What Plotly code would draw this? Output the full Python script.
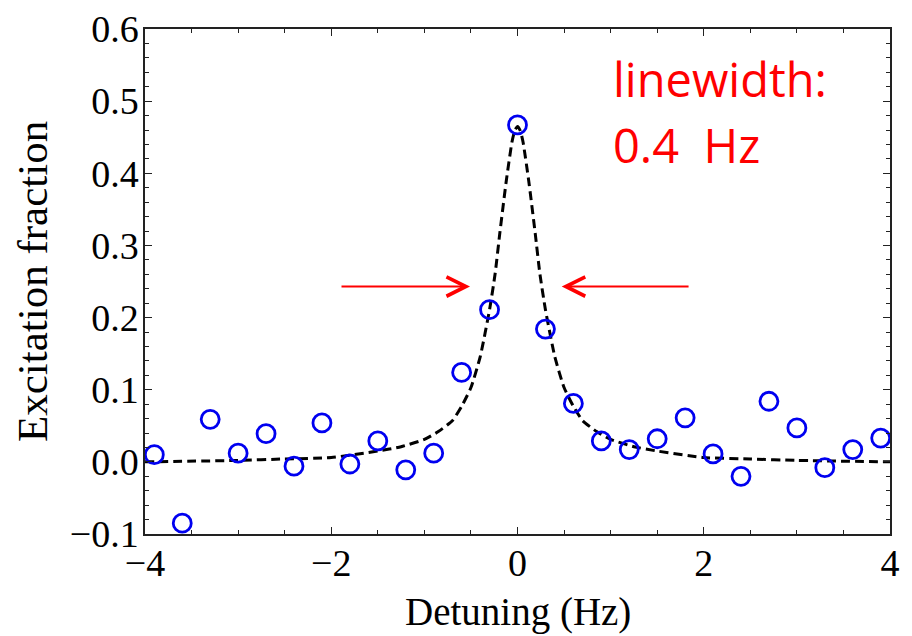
import plotly.graph_objects as go

# Measured data points (Detuning in Hz, excitation fraction)
detuning = [-3.9, -3.6, -3.3, -3.0, -2.7, -2.4, -2.1, -1.8, -1.5, -1.2, -0.9, -0.6, -0.3,
            0.0, 0.3, 0.6, 0.9, 1.2, 1.5, 1.8, 2.1, 2.4, 2.7, 3.0, 3.3, 3.6, 3.9]
excitation = [0.010, -0.085, 0.059, 0.012, 0.039, -0.006, 0.054, -0.003, 0.029, -0.011, 0.012, 0.124, 0.211,
              0.467, 0.184, 0.081, 0.029, 0.017, 0.032, 0.061, 0.011, -0.020, 0.084, 0.047, -0.008, 0.017, 0.033]

# Fit curve
fit_x = [-4.0, -3.0, -2.5, -2.0, -1.5, -1.25, -1.0, -0.85, -0.7, -0.6, -0.5, -0.4, -0.3, -0.24,
         -0.19, -0.12, -0.06, -0.03, 0.0, 0.03, 0.06, 0.12, 0.19, 0.24, 0.3, 0.4, 0.5, 0.6, 0.7,
         0.85, 1.0, 1.25, 1.5, 2.0, 2.5, 3.0, 4.0]
fit_y = [0.000, 0.002, 0.004, 0.006, 0.015, 0.021, 0.031, 0.042, 0.057, 0.077, 0.103, 0.146, 0.211, 0.261,
         0.317, 0.390, 0.443, 0.459, 0.465, 0.459, 0.443, 0.390, 0.317, 0.261, 0.211, 0.146, 0.103, 0.077, 0.057,
         0.042, 0.031, 0.021, 0.015, 0.006, 0.004, 0.002, 0.000]

x_ticks = [-4, -2, 0, 2, 4]
y_ticks = [-0.1, 0.0, 0.1, 0.2, 0.3, 0.4, 0.5, 0.6]

x_title = "Detuning (Hz)"
y_title = "Excitation fraction"
label_line1 = "linewidth:"
label_line2 = "0.4  Hz"

# The page body adds an 8px offset; margins compensate so the plot lands where the reference has it
ML, MT, MR, MB = 137, 21, 30, 110
PW, PH = 912 - ML - MR, 636 - MT - MB

fig = go.Figure()
fig.add_trace(go.Scatter(x=fit_x, y=fit_y, mode="lines",
                         line=dict(color="black", width=3, dash="9px,5px", shape="spline", smoothing=0.5),
                         showlegend=False, hoverinfo="skip"))
fig.add_trace(go.Scatter(x=detuning, y=excitation, mode="markers",
                         marker=dict(symbol="circle-open", size=18, color="#0000f0",
                                     line=dict(width=2.8, color="#0000f0")),
                         showlegend=False))

serif = "Liberation Serif, Times New Roman, serif"
axis_common = dict(showline=True, linecolor="#222", linewidth=1.5, mirror="ticks",
                   ticks="inside", ticklen=7, tickwidth=1.2, tickcolor="#222",
                   showgrid=False, zeroline=False, automargin=False,
                   tickfont=dict(family=serif, size=38, color="black"))

fig.update_xaxes(range=[-4, 4], tickvals=x_ticks, ticklabelstandoff=-5,
                 minor=dict(dtick=0.5, ticks="inside", ticklen=4, tickcolor="#222", tickwidth=1.2),
                 **axis_common)
fig.update_yaxes(range=[-0.1, 0.6], tickvals=y_ticks, tickformat=".1f", ticklabelstandoff=-3,
                 minor=dict(dtick=0.02, ticks="inside", ticklen=4, tickcolor="#222", tickwidth=1.2),
                 **axis_common)

# Axis titles as annotations for exact placement (screen px -> paper coords)
fig.add_annotation(x=0.5, y=-((612 - 8) - (636 - MB)) / PH, xref="paper", yref="paper", text=x_title,
                   showarrow=False, xanchor="center", yanchor="middle",
                   font=dict(family=serif, size=39, color="black"))
fig.add_annotation(x=((32 - 8) - ML) / PW, y=((636 - MB) - (282 - 8)) / PH, xref="paper", yref="paper",
                   text=y_title, showarrow=False, textangle=-90, xanchor="center", yanchor="middle",
                   font=dict(family=serif, size=43, color="black"))

# Red annotations
fig.add_annotation(x=1.007, y=0.484, xref="x", yref="y", text=label_line1, showarrow=False,
                   xanchor="left", yanchor="bottom",
                   font=dict(family="Open Sans, sans-serif", size=47, color="red"))
fig.add_annotation(x=1.007, y=0.392, xref="x", yref="y", text=label_line2, showarrow=False,
                   xanchor="left", yanchor="bottom",
                   font=dict(family="Open Sans, sans-serif", size=47, color="red"))

arrow_y = 0.243
fig.add_annotation(x=-0.51, y=arrow_y, ax=-1.906, ay=arrow_y, xref="x", yref="y", axref="x", ayref="y",
                   text="", showarrow=True, arrowhead=5, arrowsize=1.9, arrowwidth=2, arrowcolor="red")
fig.add_annotation(x=0.475, y=arrow_y, ax=1.853, ay=arrow_y, xref="x", yref="y", axref="x", ayref="y",
                   text="", showarrow=True, arrowhead=5, arrowsize=1.9, arrowwidth=2, arrowcolor="red")

fig.update_layout(width=912, height=636, margin=dict(l=ML, r=MR, t=MT, b=MB),
                  plot_bgcolor="white", paper_bgcolor="white")

fig.write_html("out.html")
